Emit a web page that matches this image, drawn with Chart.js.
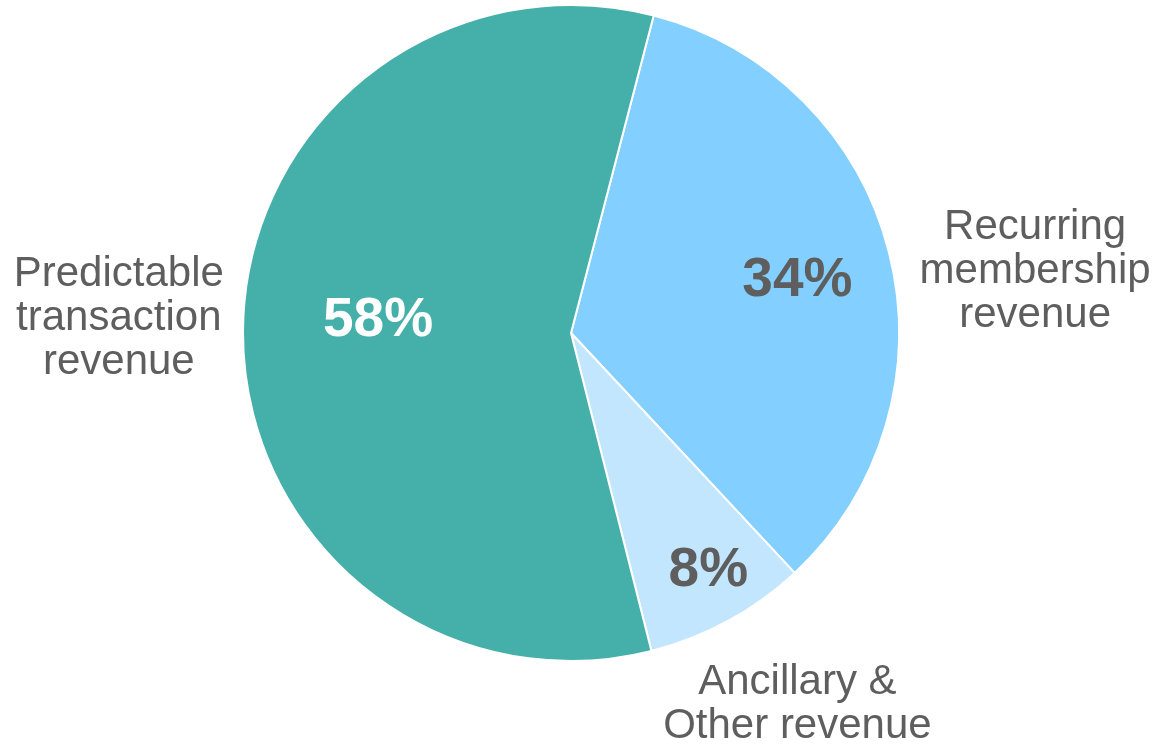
<!DOCTYPE html>
<html>
<head>
<meta charset="utf-8">
<script src="https://cdn.jsdelivr.net/npm/chart.js@4/dist/chart.umd.min.js"></script>
<style>
html,body{margin:0;padding:0;background:#fff;}
#c{display:block;}
</style>
</head>
<body>
<canvas id="c" width="1154" height="745"></canvas>
<script>
const categories = [
  ["Recurring", "membership", "revenue"],
  ["Ancillary &", "Other revenue"],
  ["Predictable", "transaction", "revenue"]
];
const values = [34, 8, 58];
const valueLabels = ["34%", "8%", "58%"];
const colors = ["#83CFFF", "#C3E6FF", "#45B0AA"];
const valueColors = ["#5E5E5E", "#5E5E5E", "#FFFFFF"];

// label placement styles: [radius factor, angle offset deg]
const innerPlace = [[0.71, 0.6], [0.83, -1.7], [0.59, 4.3]];
const outerPlace = [[1.43, 5.9], [1.31, -3.2], [1.38, 2.4]];

const labelPlugin = {
  id: 'pieLabels',
  afterDatasetsDraw(chart) {
    const ctx = chart.ctx;
    const meta = chart.getDatasetMeta(0);
    meta.data.forEach((arc, i) => {
      const p = arc.getProps(['x','y','startAngle','endAngle','outerRadius'], true);
      const mid = (p.startAngle + p.endAngle) / 2;
      ctx.save();
      ctx.textAlign = 'center';
      ctx.textBaseline = 'middle';
      // inner value label
      let a = mid + innerPlace[i][1] * Math.PI / 180;
      let r = p.outerRadius * innerPlace[i][0];
      ctx.font = 'bold 55px "Liberation Sans", Arial, sans-serif';
      ctx.fillStyle = valueColors[i];
      ctx.fillText(valueLabels[i], p.x + Math.cos(a) * r, p.y + Math.sin(a) * r + 3);
      // outer category label
      a = mid + outerPlace[i][1] * Math.PI / 180;
      r = p.outerRadius * outerPlace[i][0];
      const cx = p.x + Math.cos(a) * r;
      const cy = p.y + Math.sin(a) * r + 6;
      const lines = categories[i];
      const lh = 44;
      ctx.font = '42px "Liberation Sans", Arial, sans-serif';
      ctx.fillStyle = '#5E5E5E';
      lines.forEach((ln, k) => {
        ctx.fillText(ln, cx, cy + (k - (lines.length - 1) / 2) * lh);
      });
      ctx.restore();
    });
  }
};

new Chart(document.getElementById('c'), {
  type: 'pie',
  data: {
    labels: categories.map(l => l.join(' ')),
    datasets: [{
      data: values,
      backgroundColor: colors,
      borderColor: '#FFFFFF',
      borderWidth: 2
    }]
  },
  options: {
    responsive: false,
    animation: false,
    rotation: 14.6,
    layout: { padding: { top: 4, bottom: 83, left: 0, right: 12 } },
    plugins: { legend: { display: false }, tooltip: { enabled: false } }
  },
  plugins: [labelPlugin]
});
</script>
</body>
</html>
